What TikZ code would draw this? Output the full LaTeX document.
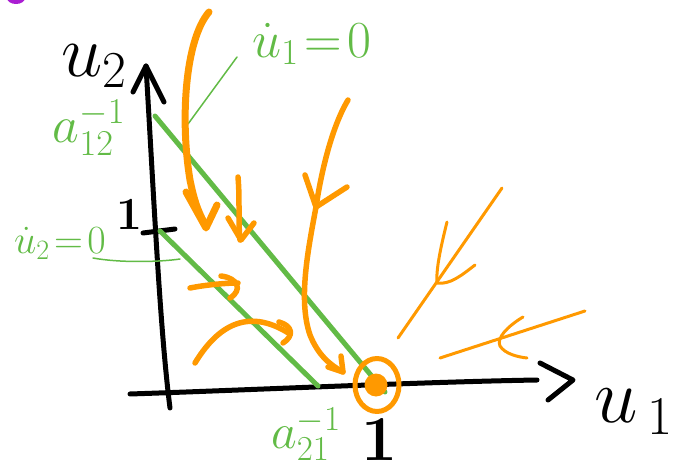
\RequirePackage{fix-cm}
\documentclass[tikz,border=0pt]{standalone}
\usetikzlibrary{calc,shapes.geometric}
\definecolor{gr}{RGB}{98,187,70}
\definecolor{orng}{RGB}{255,153,0}
\definecolor{purp}{RGB}{170,30,210}
\begin{document}
\begin{tikzpicture}[x=1pt,y=-1pt,line cap=round,line join=round,
  ax/.style={line width=5pt,black},
  nc/.style={line width=5pt,gr},
  orb/.style={line width=5.5pt,orng},
  orbthin/.style={line width=3pt,orng},
  lead/.style={line width=1.5pt,gr},
  glab/.style={text=gr,inner sep=0pt},
  blab/.style={text=black,inner sep=0pt}]
\useasboundingbox (0,0) rectangle (683,473);
% purple remnant
\fill[purp] (16,-2) ellipse (9 and 6);
% axes
\coordinate (ybot) at (170,408);
\coordinate (ytop) at (146,66);
\coordinate (xl) at (130,394);
\coordinate (xr) at (537,380);
\draw[ax] (ybot) .. controls (160,330) and (154,200) .. (ytop);
\draw[ax] (133,92) -- (ytop) -- (164,102);
\draw[ax] (xl) .. controls (250,390) and (420,382) .. (xr);
\draw[ax] (540,363) -- (573,380) -- (548,400);
\draw[ax] (143,233) -- (175,229);
% labels black
\node[blab,font=\fontsize{74}{74}\selectfont] (u2) at (94,66) {$u_2$};
\node[blab,font=\fontsize{78}{78}\selectfont] (u1) at (634,412) {$u_{\,1}$};
\node[blab,font=\fontsize{46}{46}\selectfont\bfseries] (one y) at (129,214) {1};
\node[blab,font=\fontsize{64}{64}\selectfont\bfseries] (one x) at (380,440) {1};
% nullclines
\coordinate (n1a) at (155,116);
\coordinate (n1b) at (385,392);
\coordinate (n2a) at (160,231);
\coordinate (n2b) at (318,386);
\draw[nc] (n1a) -- (n1b);
\draw[nc] (n2a) -- (n2b);
% green labels
\node[glab,font=\fontsize{52}{52}\selectfont] (l1) at (312,44) {$\dot u_{1}\!=\!0$};
\node[glab,font=\fontsize{40}{40}\selectfont] (l2) at (60,243) {$\dot u_{2}\!=\!0$};
\node[glab,font=\fontsize{52}{52}\selectfont] (a12) at (89,128) {$a_{12}^{-1}$};
\node[glab,font=\fontsize{50}{50}\selectfont] (a21) at (306,434) {$a_{21}^{-1}$};
\draw[lead] (237,57) -- (188,124);
\draw[lead] (93,258) .. controls (120,263) and (160,262) .. (180,259);
% fixed point
\node[draw=orng,line width=5pt,ellipse,minimum width=44pt,minimum height=53pt,inner sep=0pt] (fp) at (377,385) {};
\fill[orng] (376,385) circle (11.5);
% trajectories
\draw[orb,line width=7pt] (209,12) .. controls (185,40) and (180,120) .. (190,180) .. controls (195,205) and (200,215) .. (206,226);
\draw[orb,line width=7pt] (186,192) -- (206,228) -- (217,205);
\draw[orb] (238,177) .. controls (240,200) and (238,220) .. (240,240);
\draw[orb] (228,218) -- (241,240) -- (254,223);
\draw[orb] (348,100) .. controls (330,130) and (320,180) .. (316,207) .. controls (308,250) and (298,300) .. (310,335) .. controls (318,355) and (330,365) .. (343,372);
\draw[orb] (305,175) -- (316,207) -- (347,187);
\draw[orb] (328,367) -- (343,372) -- (341,356);
\draw[orb] (190,288) .. controls (205,285) and (225,283) .. (238,283);
\draw[orb] (221,276) .. controls (238,278) and (243,290) .. (230,298);
\draw[orb] (195,363) .. controls (215,330) and (245,305) .. (290,334);
\draw[orb] (279,322) .. controls (293,326) and (294,336) .. (283,343);
\draw[orbthin] (398,338) -- (502,188);
\draw[orbthin] (447,222) .. controls (440,250) and (436,270) .. (437,283) .. controls (450,285) and (462,275) .. (475,265);
\draw[orbthin] (440,358) -- (585,311);
\draw[orbthin] (523,317) .. controls (508,326) and (496,338) .. (500,346) .. controls (505,354) and (518,357) .. (527,358);
\end{tikzpicture}
\end{document}
